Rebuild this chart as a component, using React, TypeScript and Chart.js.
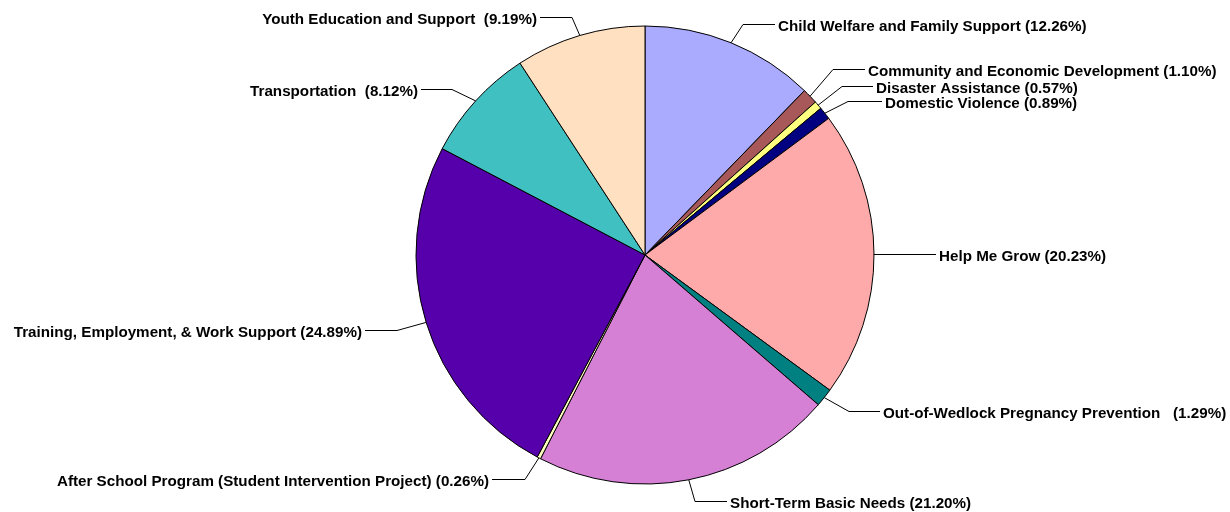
import React, { useEffect, useRef } from "react";
import { Chart, registerables } from "chart.js";

Chart.register(...registerables);

const categories = [
  "Child Welfare and Family Support",
  "Community and Economic Development",
  "Disaster Assistance",
  "Domestic Violence",
  "Help Me Grow",
  "Out-of-Wedlock Pregnancy Prevention",
  "Short-Term Basic Needs",
  "After School Program (Student Intervention Project)",
  "Training, Employment, & Work Support",
  "Transportation",
  "Youth Education and Support",
];

const values = [12.26, 1.1, 0.57, 0.89, 20.23, 1.29, 21.2, 0.26, 24.89, 8.12, 9.19];

const labelGaps = [" ", " ", " ", " ", " ", "   ", " ", " ", " ", "  ", "  "];

const colors = [
  "#AAAAFF",
  "#A85858",
  "#FFFF80",
  "#000080",
  "#FFAAAA",
  "#008080",
  "#D580D5",
  "#FFFFC0",
  "#5500AA",
  "#40C0C0",
  "#FFE0C0",
];

// leader-line layout relative to the pie centre: elbow (dx, dy) or null, line end dx
const leaderLayout: { elbow: [number, number] | null; end: number }[] = [
  { elbow: [98, -231], end: 130 },
  { elbow: [188, -186], end: 220 },
  { elbow: [197, -169], end: 228 },
  { elbow: [203, -154], end: 237 },
  { elbow: null, end: 291 },
  { elbow: [204, 156], end: 235 },
  { elbow: [50, 246], end: 82 },
  { elbow: [-120, 224], end: -153 },
  { elbow: [-248, 75], end: -280 },
  { elbow: [-193, -166], end: -224 },
  { elbow: [-73, -238], end: -105 },
];

const labelTexts = categories.map(
  (c, i) => `${c}${labelGaps[i]}(${values[i].toFixed(2)}%)`
);

const leaderPlugin = {
  id: "leaderLabels",
  afterDatasetsDraw(chart: any) {
    const ctx = chart.ctx;
    const meta = chart.getDatasetMeta(0);
    ctx.save();
    ctx.font = "bold 15.2px 'Liberation Sans', Arial, sans-serif";
    ctx.textBaseline = "middle";
    ctx.fillStyle = "#000";
    ctx.strokeStyle = "#000";
    ctx.lineWidth = 1;
    meta.data.forEach((arc: any, i: number) => {
      const { x, y, startAngle, endAngle, outerRadius } = arc.getProps(
        ["x", "y", "startAngle", "endAngle", "outerRadius"],
        true
      );
      const mid = (startAngle + endAngle) / 2;
      const px = x + Math.cos(mid) * outerRadius;
      const py = y + Math.sin(mid) * outerRadius;
      const lay = leaderLayout[i];
      let ex: number, ey: number;
      if (lay.elbow) {
        ex = x + lay.elbow[0];
        ey = Math.round(y + lay.elbow[1]) + 0.5;
      } else {
        ex = px;
        ey = Math.round(py) + 0.5;
      }
      const endX = x + lay.end;
      ctx.beginPath();
      ctx.moveTo(px, py);
      ctx.lineTo(ex, ey);
      ctx.lineTo(endX, ey);
      ctx.stroke();
      const right = lay.end > 0;
      ctx.textAlign = right ? "left" : "right";
      ctx.fillText(labelTexts[i], right ? endX + 3 : endX - 3, ey + 2);
    });
    ctx.restore();
  },
};

export default function App() {
  const canvasRef = useRef<HTMLCanvasElement | null>(null);

  useEffect(() => {
    if (!canvasRef.current) return;
    const chart = new Chart(canvasRef.current, {
      type: "pie",
      data: {
        labels: categories,
        datasets: [
          {
            data: values,
            backgroundColor: colors,
            borderColor: "#000000",
            borderWidth: 1,
          },
        ],
      },
      options: {
        animation: false,
        responsive: true,
        maintainAspectRatio: false,
        radius: 229,
        layout: { padding: { left: 60, right: 0, top: 0, bottom: 2 } },
        plugins: {
          legend: { display: false },
          tooltip: { enabled: false },
        },
      },
      plugins: [leaderPlugin],
    });
    return () => chart.destroy();
  }, []);

  return (
    <div
      style={{
        position: "fixed",
        left: 0,
        top: 0,
        width: 1230,
        height: 512,
        background: "#fff",
      }}
    >
      <canvas ref={canvasRef} />
    </div>
  );
}
